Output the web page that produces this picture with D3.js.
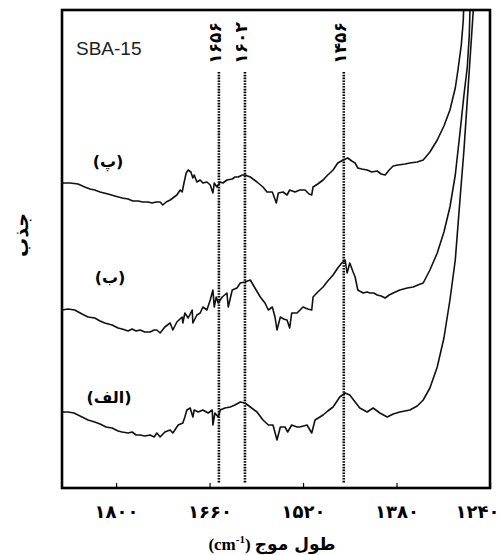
<!DOCTYPE html>
<html><head><meta charset="utf-8">
<script src="https://cdn.jsdelivr.net/npm/d3@7/dist/d3.min.js"></script>
<style>body{margin:0;background:#fff}svg{display:block}</style></head>
<body><svg id="c" width="502" height="555"></svg>
<script>
// ---------- data ----------
const xTicks = [1800, 1660, 1520, 1380, 1240];
const xTickLabels = ["۱۸۰۰", "۱۶۶۰", "۱۵۲۰", "۱۳۸۰", "۱۲۴۰"];
const peakPositions = [1646, 1607, 1459];
const peakLabels = ["۱۶۵۶", "۱۶۰۲", "۱۴۵۶"];
const seriesNames = ["(پ)", "(ب)", "(الف)"];
const sampleName = "SBA-15";
const xTitle = "طول موج";
const yTitle = "جذب";

// wavenumber (cm-1), absorbance (a.u.)
const spectrumP = [[1881,3.05],[1869,3.05],[1857,3.04],[1847,3.01],[1839,2.99],[1832,2.98],[1824,2.96],[1812,2.94],[1802,2.92],[1791,2.90],[1782,2.89],[1775,2.87],[1767,2.87],[1760,2.86],[1752,2.86],[1746,2.85],[1740,2.86],[1734,2.86],[1730,2.83],[1725,2.86],[1719,2.88],[1713,2.91],[1709,2.93],[1704,2.98],[1701,2.96],[1698,3.06],[1695,3.15],[1692,3.18],[1688,3.16],[1685,3.10],[1683,3.13],[1679,3.06],[1674,3.08],[1670,3.05],[1664,3.06],[1659,3.03],[1655,2.95],[1653,3.05],[1649,3.01],[1644,3.06],[1640,3.05],[1634,3.08],[1626,3.09],[1622,3.11],[1617,3.11],[1611,3.13],[1607,3.13],[1599,3.11],[1589,3.06],[1580,3.01],[1574,2.96],[1566,2.96],[1560,2.85],[1557,2.95],[1550,2.96],[1544,2.93],[1540,2.98],[1532,2.96],[1525,2.98],[1517,2.98],[1511,2.94],[1507,2.93],[1505,3.01],[1498,3.04],[1490,3.08],[1483,3.13],[1475,3.18],[1468,3.25],[1460,3.28],[1453,3.30],[1447,3.27],[1442,3.25],[1438,3.20],[1432,3.19],[1424,3.18],[1417,3.16],[1409,3.17],[1403,3.14],[1397,3.13],[1391,3.18],[1385,3.22],[1378,3.23],[1367,3.24],[1360,3.25],[1349,3.26],[1340,3.28],[1330,3.36],[1319,3.48],[1309,3.62],[1300,3.78],[1292,4.00],[1288,4.18],[1283,4.43],[1280,4.68],[1279,4.88]];

const spectrumB = [[1881,1.78],[1872,1.79],[1862,1.78],[1851,1.74],[1842,1.71],[1832,1.70],[1824,1.67],[1817,1.65],[1806,1.63],[1797,1.60],[1791,1.59],[1782,1.57],[1776,1.59],[1770,1.57],[1764,1.58],[1757,1.56],[1749,1.56],[1743,1.58],[1739,1.58],[1734,1.55],[1727,1.61],[1719,1.65],[1715,1.58],[1709,1.66],[1701,1.71],[1700,1.65],[1697,1.75],[1692,1.70],[1686,1.78],[1685,1.65],[1679,1.73],[1674,1.75],[1670,1.81],[1664,1.78],[1659,1.88],[1655,1.98],[1653,1.81],[1650,1.91],[1647,1.85],[1641,1.91],[1634,1.95],[1632,1.81],[1626,1.98],[1619,2.00],[1614,2.05],[1607,2.06],[1599,2.08],[1592,2.00],[1584,1.91],[1577,1.85],[1572,1.78],[1566,1.81],[1562,1.71],[1559,1.58],[1554,1.71],[1549,1.69],[1544,1.68],[1540,1.60],[1537,1.75],[1529,1.75],[1520,1.81],[1513,1.79],[1507,1.78],[1505,1.91],[1498,1.96],[1490,2.01],[1483,2.07],[1475,2.13],[1468,2.20],[1462,2.25],[1457,2.28],[1454,2.15],[1450,2.25],[1445,2.16],[1442,2.11],[1438,1.98],[1430,1.95],[1424,1.96],[1420,1.95],[1414,1.95],[1409,1.93],[1403,1.92],[1397,1.90],[1391,1.93],[1385,1.95],[1375,1.98],[1364,2.00],[1355,2.01],[1348,2.03],[1340,2.05],[1330,2.18],[1319,2.35],[1309,2.56],[1300,2.81],[1292,3.13],[1285,3.55],[1279,3.93],[1274,4.21],[1271,4.53],[1270,4.78],[1268,4.93]];

const spectrumA = [[1881,0.76],[1872,0.76],[1863,0.75],[1854,0.72],[1842,0.68],[1832,0.66],[1824,0.64],[1815,0.61],[1806,0.60],[1797,0.57],[1791,0.56],[1782,0.55],[1776,0.56],[1770,0.53],[1764,0.53],[1757,0.52],[1749,0.53],[1743,0.51],[1739,0.55],[1734,0.51],[1727,0.56],[1719,0.58],[1715,0.55],[1707,0.63],[1700,0.65],[1697,0.71],[1694,0.78],[1689,0.80],[1685,0.71],[1683,0.78],[1677,0.76],[1670,0.78],[1662,0.75],[1656,0.78],[1655,0.63],[1652,0.75],[1647,0.71],[1644,0.78],[1637,0.80],[1629,0.81],[1622,0.83],[1614,0.86],[1607,0.85],[1599,0.81],[1589,0.76],[1580,0.68],[1572,0.63],[1565,0.63],[1559,0.48],[1554,0.61],[1547,0.61],[1543,0.56],[1537,0.63],[1529,0.61],[1525,0.61],[1514,0.63],[1507,0.55],[1502,0.68],[1490,0.73],[1483,0.77],[1475,0.81],[1465,0.91],[1457,0.95],[1450,0.93],[1442,0.86],[1435,0.80],[1424,0.76],[1415,0.80],[1405,0.75],[1394,0.71],[1385,0.74],[1375,0.76],[1360,0.78],[1349,0.82],[1340,0.88],[1330,1.00],[1319,1.21],[1309,1.50],[1300,1.88],[1292,2.28],[1285,2.88],[1279,3.38],[1274,3.88],[1270,4.28],[1265,4.78],[1264,4.93]];

// ---------- layout ----------
const svg = d3.select("#c");
const M = {left: 62, top: 10, right: 490, bottom: 488};
const x = d3.scaleLinear().domain([1881, 1240]).range([M.left, M.right]);
const y = d3.scaleLinear().domain([0, 4.78]).range([M.bottom, M.top]);
const faFont = "'DejaVu Sans', 'Noto Sans', sans-serif";

svg.append("defs").append("clipPath").attr("id", "clip")
  .append("rect").attr("x", M.left).attr("y", M.top)
  .attr("width", M.right - M.left).attr("height", M.bottom - M.top);

// dotted reference lines
svg.append("g").selectAll("line").data(peakPositions).join("line")
  .attr("x1", d => x(d)).attr("x2", d => x(d))
  .attr("y1", 72).attr("y2", 483)
  .attr("stroke", "#000").attr("stroke-width", 2.6)
  .attr("stroke-dasharray", "1.6,1.2");

// spectra
const line = d3.line().x(d => x(d[0])).y(d => y(d[1]));
svg.append("g").attr("clip-path", "url(#clip)")
  .selectAll("path").data([spectrumP, spectrumB, spectrumA]).join("path")
  .attr("d", line).attr("fill", "none").attr("stroke", "#111")
  .attr("stroke-width", 1.6).attr("stroke-linejoin", "round");

// frame
svg.append("rect").attr("x", M.left).attr("y", M.top)
  .attr("width", M.right - M.left).attr("height", M.bottom - M.top)
  .attr("fill", "none").attr("stroke", "#000").attr("stroke-width", 2.6);

// x axis ticks (inside) and labels
const xAxis = d3.axisBottom(x).tickValues(xTicks).tickSizeInner(-5).tickSizeOuter(0)
  .tickFormat((d, i) => xTickLabels[i]).tickPadding(17);
const ax = svg.append("g").attr("transform", `translate(0,${M.bottom})`).call(xAxis);
ax.select(".domain").remove();
ax.selectAll(".tick line").attr("stroke", "#000").attr("stroke-width", 1.2);
ax.selectAll(".tick text").attr("font-family", faFont).attr("font-weight", "bold")
  .attr("font-size", 18).attr("fill", "#000")
  .attr("dx", (d, i) => i === xTicks.length - 1 ? -13 : 0);

// peak labels (rotated)
svg.append("g").selectAll("text").data(peakPositions).join("text")
  .attr("transform", d => `translate(${x(d) + 2},43) rotate(-90)`)
  .attr("text-anchor", "middle").attr("font-family", faFont).attr("font-weight", "bold")
  .attr("font-size", 17).text((d, i) => peakLabels[i]);

// sample label
svg.append("text").attr("x", 76).attr("y", 55).attr("font-family", "Liberation Sans, Arial, sans-serif")
  .attr("font-size", 19).attr("fill", "#222").text(sampleName);

// series labels
const labelPos = [[108, 167], [110, 283], [109, 403]];
svg.append("g").selectAll("text").data(seriesNames).join("text")
  .attr("x", (d, i) => labelPos[i][0]).attr("y", (d, i) => labelPos[i][1])
  .attr("text-anchor", "middle").attr("font-family", faFont).attr("font-weight", "bold")
  .attr("font-size", 16).text(d => d);

// y title
svg.append("text").attr("transform", "translate(28,235) rotate(-90)")
  .attr("text-anchor", "middle").attr("font-family", faFont).attr("font-weight", "bold")
  .attr("font-size", 19).text(yTitle);

// x title
const xt = svg.append("text").attr("x", 272).attr("y", 550).attr("text-anchor", "middle")
  .attr("font-family", "'Liberation Serif', 'DejaVu Serif', serif").attr("font-weight", "bold")
  .attr("font-size", 17).attr("direction", "ltr");
xt.append("tspan").text("(cm");
xt.append("tspan").attr("dy", -7).attr("font-size", 11).text("-1");
xt.append("tspan").attr("dy", 7).text(") ");
xt.append("tspan").attr("font-family", faFont).attr("font-size", 17).text(xTitle);
</script></body></html>
